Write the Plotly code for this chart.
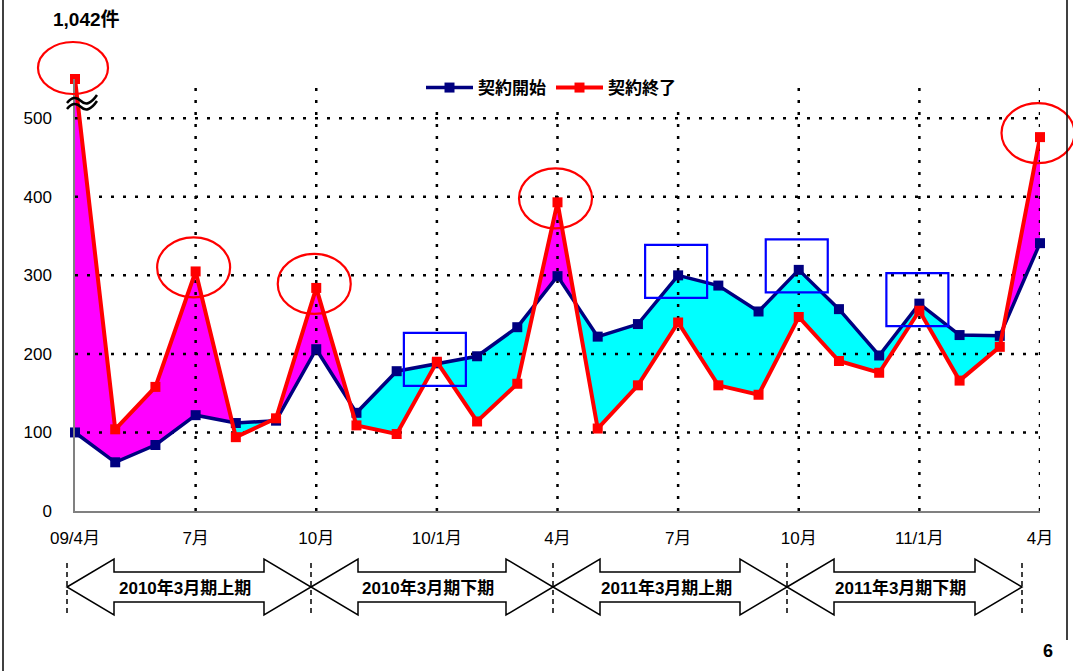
import plotly.graph_objects as go

# Monthly contract counts, Apr 2009 .. Apr 2011
month_index = list(range(25))
tick_positions = [0, 3, 6, 9, 12, 15, 18, 21, 24]
tick_labels = ["09/4月", "7月", "10月", "10/1月", "4月", "7月", "10月", "11/1月", "4月"]

contract_start = [100, 62, 84, 122, 112, 115, 206, 125, 178, 188, 197, 234, 299,
                  222, 238, 300, 287, 254, 307, 257, 198, 264, 224, 223, 341]
contract_end = [1042, 104, 158, 305, 94, 118, 284, 109, 98, 190, 114, 162, 393,
                105, 160, 240, 160, 148, 247, 191, 176, 255, 166, 209, 476]

series_names = ["契約開始", "契約終了"]
y_ticks = [0, 100, 200, 300, 400, 500]
period_labels = ["2010年3月期上期", "2010年3月期下期", "2011年3月期上期", "2011年3月期下期"]
end_highlights = [0, 3, 6, 12, 24]
start_highlights = [9, 15, 18, 21]

Y_MAX = 550  # axis is broken above this value
end_plot = [min(v, Y_MAX) for v in contract_end]

W, H = 1073, 671
L, R, T, B = 75, 1040, 79, 511
FONT = "Liberation Sans, Noto Sans CJK JP, sans-serif"


def px(x):
    return (x - L) / (R - L)


def py(y):
    return (B - y) / (B - T)


def dx(i):
    return i / 24


def dy(v):
    return v / Y_MAX


# ---- fill regions between the two series, split at crossings ----
def regions(xs, up, lo):
    pts = []
    for i in range(len(xs)):
        pts.append((xs[i], up[i], lo[i]))
        if i < len(xs) - 1:
            d0, d1 = up[i] - lo[i], up[i + 1] - lo[i + 1]
            if d0 * d1 < 0:
                t = d0 / (d0 - d1)
                xc = xs[i] + t * (xs[i + 1] - xs[i])
                yc = up[i] + t * (up[i + 1] - up[i])
                pts.append((xc, yc, yc))
    runs = {1: [], -1: []}
    cur, sign = [], 0
    for p in pts:
        d = p[1] - p[2]
        s = (d > 0) - (d < 0)
        if s == 0:
            cur.append(p)
            if sign != 0:
                runs[sign].append(cur)
                cur, sign = [p], 0
            continue
        cur.append(p)
        sign = s
    if sign != 0:
        runs[sign].append(cur)
    out = {}
    for s, rs in runs.items():
        fx, fy = [], []
        for run in rs:
            fx += [p[0] for p in run] + [p[0] for p in reversed(run)] + [None]
            fy += [p[1] for p in run] + [p[2] for p in reversed(run)] + [None]
        out[s] = (fx, fy)
    return out


fig = go.Figure()
fills = regions(month_index, end_plot, contract_start)
for s, color in [(1, "#FF00FF"), (-1, "#00FFFF")]:
    fx, fy = fills[s]
    fig.add_trace(go.Scatter(x=fx, y=fy, mode="lines", fill="toself", fillcolor=color,
                             line=dict(width=0), showlegend=False, hoverinfo="skip"))

# dotted grid drawn over the fills
gx, gy = [], []
for t in tick_positions[1:]:
    gx += [t, t, None]
    gy += [0, Y_MAX, None]
for v in y_ticks[1:]:
    gx += [0, 24, None]
    gy += [v, v, None]
fig.add_trace(go.Scatter(x=gx, y=gy, mode="lines", showlegend=False, hoverinfo="skip",
                         line=dict(color="black", width=2.5, dash="3px,9px")))

fig.add_trace(go.Scatter(x=month_index, y=contract_start, name=series_names[0],
                         mode="lines+markers", cliponaxis=False,
                         line=dict(color="#000080", width=3.5),
                         marker=dict(symbol="square", size=10, color="#000080")))
fig.add_trace(go.Scatter(x=month_index, y=end_plot, name=series_names[1],
                         mode="lines+markers", cliponaxis=False,
                         line=dict(color="#FF0000", width=4),
                         marker=dict(symbol="square", size=10, color="#FF0000")))

shapes = []
# red ellipses around notable contract-end values
for i in end_highlights:
    cx = L + dx(i) * (R - L) - 2
    cy = B - dy(end_plot[i]) * (B - T) - 4
    w, h = 73, 60
    if i == 0:
        cy -= 7
        w, h = 70, 52
    shapes.append(dict(type="circle", xref="paper", yref="paper",
                       x0=px(cx - w / 2), x1=px(cx + w / 2),
                       y0=py(cy + h / 2), y1=py(cy - h / 2),
                       line=dict(color="#FF0000", width=2.2), layer="above"))
# blue boxes around notable contract-start values
for i in start_highlights:
    cx = L + dx(i) * (R - L) - 2
    cy = B - dy(contract_start[i]) * (B - T) - 4
    w, h = 62, 53
    shapes.append(dict(type="rect", xref="paper", yref="paper",
                       x0=px(cx - w / 2), x1=px(cx + w / 2),
                       y0=py(cy + h / 2), y1=py(cy - h / 2),
                       line=dict(color="#0000FF", width=2.2), layer="above"))

# axis-break mark on the first contract-end value
for off in (0, 6):
    x0, y0 = 67, 103 + off
    path = (f"M {px(x0)},{py(y0)} Q {px(x0 + 7)},{py(y0 - 9)} {px(x0 + 14)},{py(y0 - 2)} "
            f"T {px(x0 + 30)},{py(y0 - 8)}")
    shapes.append(dict(type="path", xref="paper", yref="paper", path=path,
                       line=dict(color="black", width=2.5), layer="above"))

# fiscal-period arrows under the axis
bounds = [67, 311, 553, 787, 1022]
for xb in bounds:
    shapes.append(dict(type="line", xref="paper", yref="paper",
                       x0=px(xb), x1=px(xb), y0=py(563), y1=py(613),
                       line=dict(color="black", width=1.5, dash="5px,4px")))
cyy, hl, hh, sh = 587, 47, 28, 15
annotations = []
for k in range(4):
    a, b = bounds[k], bounds[k + 1]
    pts = [(a, cyy), (a + hl, cyy - hh), (a + hl, cyy - sh), (b - hl, cyy - sh),
           (b - hl, cyy - hh), (b, cyy), (b - hl, cyy + hh), (b - hl, cyy + sh),
           (a + hl, cyy + sh), (a + hl, cyy + hh)]
    path = "M " + " L ".join(f"{px(x)},{py(y)}" for x, y in pts) + " Z"
    shapes.append(dict(type="path", xref="paper", yref="paper", path=path,
                       fillcolor="white", line=dict(color="black", width=1.5), layer="above"))
    annotations.append(dict(xref="paper", yref="paper", x=px((a + b) / 2 - 4), y=py(cyy + 1),
                            xanchor="center", yanchor="middle",
                            text=period_labels[k], showarrow=False,
                            font=dict(family=FONT, size=17, color="black", weight="bold")))

# page frame
shapes.append(dict(type="line", xref="paper", yref="paper", x0=px(3), x1=px(3),
                   y0=py(0), y1=py(H), line=dict(color="black", width=1.5)))
shapes.append(dict(type="line", xref="paper", yref="paper", x0=px(1067), x1=px(1067),
                   y0=py(0), y1=py(640), line=dict(color="black", width=1.5)))

annotations.append(dict(xref="paper", yref="paper", x=px(86), y=py(20),
                        xanchor="center", yanchor="middle",
                        text=f"{contract_end[0]:,}件", showarrow=False,
                        font=dict(family=FONT, size=19, color="black", weight="bold")))
annotations.append(dict(xref="paper", yref="paper", x=px(1048), y=py(651),
                        xanchor="center", yanchor="middle",
                        text="6", showarrow=False,
                        font=dict(family=FONT, size=18, color="black", weight="bold")))

fig.update_layout(
    width=W, height=H,
    margin=dict(l=L, r=W - R, t=T, b=H - B, pad=0),
    paper_bgcolor="white", plot_bgcolor="white",
    font=dict(family=FONT, color="black"),
    showlegend=True,
    legend=dict(orientation="h", x=px(551), xanchor="center", y=py(88), yanchor="middle",
                bgcolor="white", itemwidth=47, traceorder="normal",
                font=dict(family=FONT, size=17, color="black", weight="bold")),
    xaxis=dict(range=[0, 24], tickvals=tick_positions, ticktext=tick_labels,
               showgrid=False, zeroline=False, showline=True, linecolor="#808080",
               linewidth=1.5, ticks="", ticklabelstandoff=11,
               tickfont=dict(family=FONT, size=17, color="black")),
    yaxis=dict(range=[0, Y_MAX], tickvals=y_ticks, showgrid=False, zeroline=False,
               showline=True, linecolor="#808080", linewidth=1.5, ticks="",
               ticklabelstandoff=18,
               tickfont=dict(family=FONT, size=17, color="black")),
    shapes=shapes,
    annotations=annotations,
)

fig.write_html("out.html")
